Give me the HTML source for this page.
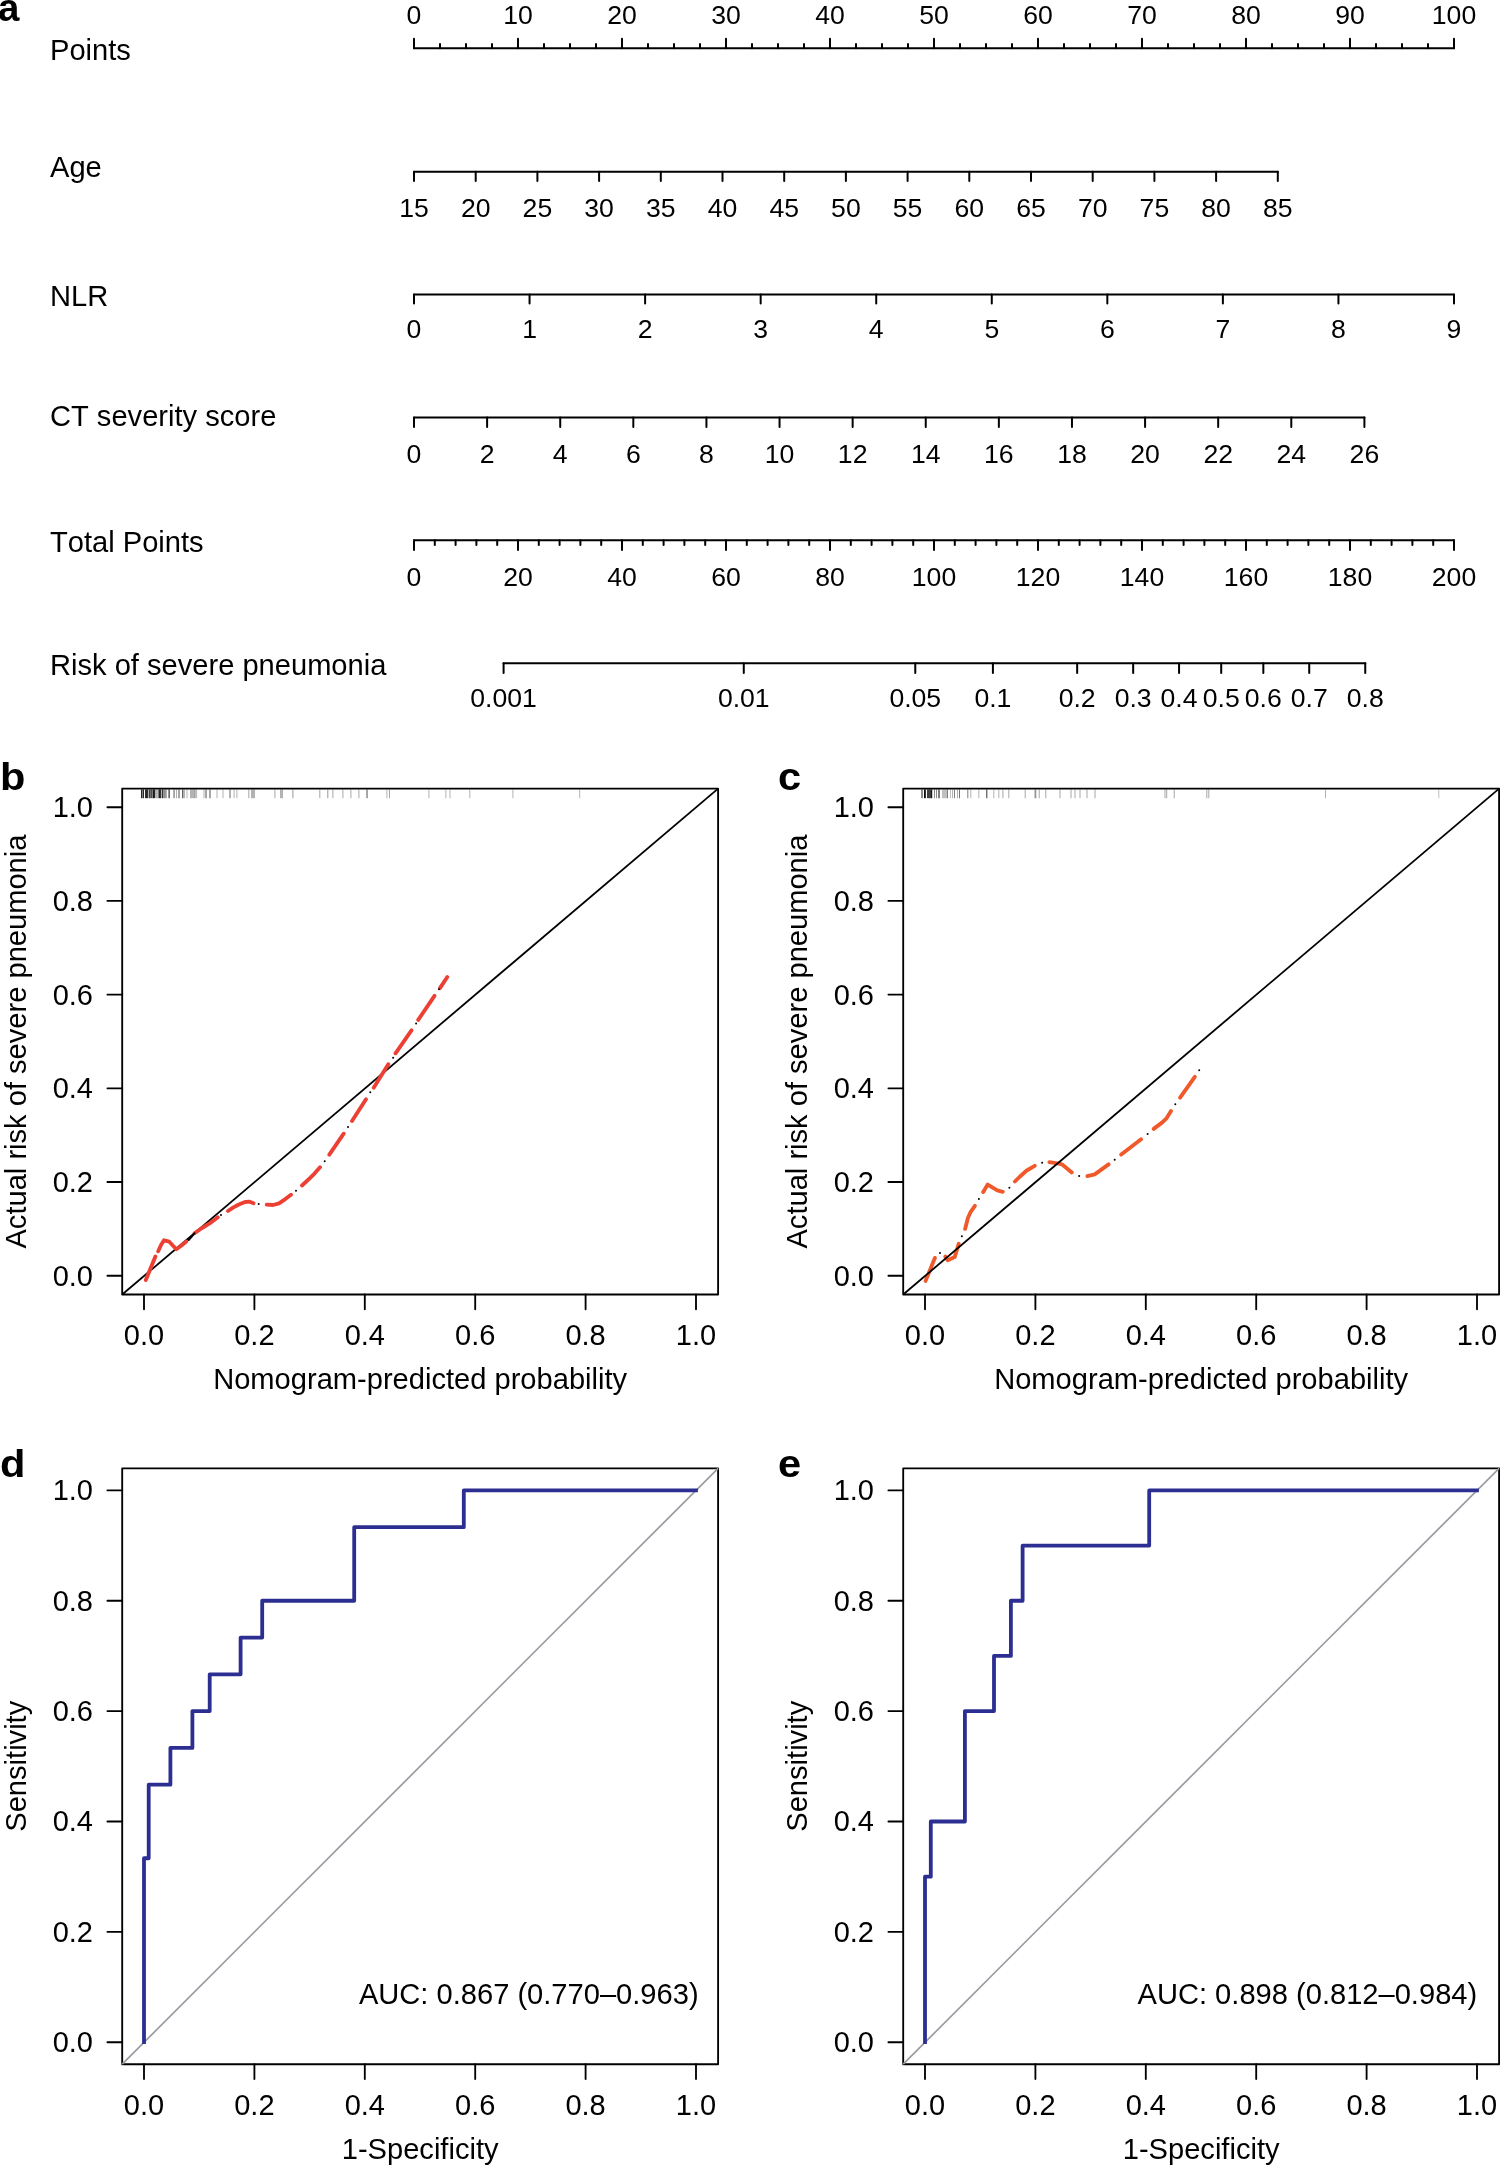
<!DOCTYPE html>
<html><head><meta charset="utf-8"><title>Nomogram</title>
<style>
html,body{margin:0;padding:0;background:#fff;}
body{width:1500px;height:2165px;overflow:hidden;}
svg{display:block;will-change:transform;}
svg text{font-family:"Liberation Sans",sans-serif;font-kerning:none;fill:#000;}
</style></head>
<body>
<svg width="1500" height="2165" viewBox="0 0 1500 2165">
<rect width="1500" height="2165" fill="#fff"/>
<text x="-2" y="21.3" font-size="38.5" font-weight="bold" text-anchor="start">a</text>
<text x="50.00" y="60.00" font-size="29.1" text-anchor="start" >Points</text>
<text x="50.00" y="176.80" font-size="29.1" text-anchor="start" >Age</text>
<text x="50.00" y="306.00" font-size="29.1" text-anchor="start" >NLR</text>
<text x="50.00" y="425.80" font-size="29.1" text-anchor="start" >CT severity score</text>
<text x="50.00" y="551.70" font-size="29.1" text-anchor="start" >Total Points</text>
<text x="50.00" y="674.80" font-size="29.1" text-anchor="start" >Risk of severe pneumonia</text>
<line x1="414.00" y1="48.30" x2="1454.00" y2="48.30" stroke="#000" stroke-width="2.0" stroke-linecap="round" />
<line x1="414.00" y1="38.70" x2="414.00" y2="48.30" stroke="#000" stroke-width="2.0" stroke-linecap="round" />
<text x="414.00" y="24.00" font-size="26.6" text-anchor="middle" >0</text>
<line x1="440.00" y1="43.90" x2="440.00" y2="48.30" stroke="#000" stroke-width="2.0" stroke-linecap="round" />
<line x1="466.00" y1="43.90" x2="466.00" y2="48.30" stroke="#000" stroke-width="2.0" stroke-linecap="round" />
<line x1="492.00" y1="43.90" x2="492.00" y2="48.30" stroke="#000" stroke-width="2.0" stroke-linecap="round" />
<line x1="518.00" y1="38.70" x2="518.00" y2="48.30" stroke="#000" stroke-width="2.0" stroke-linecap="round" />
<text x="518.00" y="24.00" font-size="26.6" text-anchor="middle" >10</text>
<line x1="544.00" y1="43.90" x2="544.00" y2="48.30" stroke="#000" stroke-width="2.0" stroke-linecap="round" />
<line x1="570.00" y1="43.90" x2="570.00" y2="48.30" stroke="#000" stroke-width="2.0" stroke-linecap="round" />
<line x1="596.00" y1="43.90" x2="596.00" y2="48.30" stroke="#000" stroke-width="2.0" stroke-linecap="round" />
<line x1="622.00" y1="38.70" x2="622.00" y2="48.30" stroke="#000" stroke-width="2.0" stroke-linecap="round" />
<text x="622.00" y="24.00" font-size="26.6" text-anchor="middle" >20</text>
<line x1="648.00" y1="43.90" x2="648.00" y2="48.30" stroke="#000" stroke-width="2.0" stroke-linecap="round" />
<line x1="674.00" y1="43.90" x2="674.00" y2="48.30" stroke="#000" stroke-width="2.0" stroke-linecap="round" />
<line x1="700.00" y1="43.90" x2="700.00" y2="48.30" stroke="#000" stroke-width="2.0" stroke-linecap="round" />
<line x1="726.00" y1="38.70" x2="726.00" y2="48.30" stroke="#000" stroke-width="2.0" stroke-linecap="round" />
<text x="726.00" y="24.00" font-size="26.6" text-anchor="middle" >30</text>
<line x1="752.00" y1="43.90" x2="752.00" y2="48.30" stroke="#000" stroke-width="2.0" stroke-linecap="round" />
<line x1="778.00" y1="43.90" x2="778.00" y2="48.30" stroke="#000" stroke-width="2.0" stroke-linecap="round" />
<line x1="804.00" y1="43.90" x2="804.00" y2="48.30" stroke="#000" stroke-width="2.0" stroke-linecap="round" />
<line x1="830.00" y1="38.70" x2="830.00" y2="48.30" stroke="#000" stroke-width="2.0" stroke-linecap="round" />
<text x="830.00" y="24.00" font-size="26.6" text-anchor="middle" >40</text>
<line x1="856.00" y1="43.90" x2="856.00" y2="48.30" stroke="#000" stroke-width="2.0" stroke-linecap="round" />
<line x1="882.00" y1="43.90" x2="882.00" y2="48.30" stroke="#000" stroke-width="2.0" stroke-linecap="round" />
<line x1="908.00" y1="43.90" x2="908.00" y2="48.30" stroke="#000" stroke-width="2.0" stroke-linecap="round" />
<line x1="934.00" y1="38.70" x2="934.00" y2="48.30" stroke="#000" stroke-width="2.0" stroke-linecap="round" />
<text x="934.00" y="24.00" font-size="26.6" text-anchor="middle" >50</text>
<line x1="960.00" y1="43.90" x2="960.00" y2="48.30" stroke="#000" stroke-width="2.0" stroke-linecap="round" />
<line x1="986.00" y1="43.90" x2="986.00" y2="48.30" stroke="#000" stroke-width="2.0" stroke-linecap="round" />
<line x1="1012.00" y1="43.90" x2="1012.00" y2="48.30" stroke="#000" stroke-width="2.0" stroke-linecap="round" />
<line x1="1038.00" y1="38.70" x2="1038.00" y2="48.30" stroke="#000" stroke-width="2.0" stroke-linecap="round" />
<text x="1038.00" y="24.00" font-size="26.6" text-anchor="middle" >60</text>
<line x1="1064.00" y1="43.90" x2="1064.00" y2="48.30" stroke="#000" stroke-width="2.0" stroke-linecap="round" />
<line x1="1090.00" y1="43.90" x2="1090.00" y2="48.30" stroke="#000" stroke-width="2.0" stroke-linecap="round" />
<line x1="1116.00" y1="43.90" x2="1116.00" y2="48.30" stroke="#000" stroke-width="2.0" stroke-linecap="round" />
<line x1="1142.00" y1="38.70" x2="1142.00" y2="48.30" stroke="#000" stroke-width="2.0" stroke-linecap="round" />
<text x="1142.00" y="24.00" font-size="26.6" text-anchor="middle" >70</text>
<line x1="1168.00" y1="43.90" x2="1168.00" y2="48.30" stroke="#000" stroke-width="2.0" stroke-linecap="round" />
<line x1="1194.00" y1="43.90" x2="1194.00" y2="48.30" stroke="#000" stroke-width="2.0" stroke-linecap="round" />
<line x1="1220.00" y1="43.90" x2="1220.00" y2="48.30" stroke="#000" stroke-width="2.0" stroke-linecap="round" />
<line x1="1246.00" y1="38.70" x2="1246.00" y2="48.30" stroke="#000" stroke-width="2.0" stroke-linecap="round" />
<text x="1246.00" y="24.00" font-size="26.6" text-anchor="middle" >80</text>
<line x1="1272.00" y1="43.90" x2="1272.00" y2="48.30" stroke="#000" stroke-width="2.0" stroke-linecap="round" />
<line x1="1298.00" y1="43.90" x2="1298.00" y2="48.30" stroke="#000" stroke-width="2.0" stroke-linecap="round" />
<line x1="1324.00" y1="43.90" x2="1324.00" y2="48.30" stroke="#000" stroke-width="2.0" stroke-linecap="round" />
<line x1="1350.00" y1="38.70" x2="1350.00" y2="48.30" stroke="#000" stroke-width="2.0" stroke-linecap="round" />
<text x="1350.00" y="24.00" font-size="26.6" text-anchor="middle" >90</text>
<line x1="1376.00" y1="43.90" x2="1376.00" y2="48.30" stroke="#000" stroke-width="2.0" stroke-linecap="round" />
<line x1="1402.00" y1="43.90" x2="1402.00" y2="48.30" stroke="#000" stroke-width="2.0" stroke-linecap="round" />
<line x1="1428.00" y1="43.90" x2="1428.00" y2="48.30" stroke="#000" stroke-width="2.0" stroke-linecap="round" />
<line x1="1454.00" y1="38.70" x2="1454.00" y2="48.30" stroke="#000" stroke-width="2.0" stroke-linecap="round" />
<text x="1454.00" y="24.00" font-size="26.6" text-anchor="middle" >100</text>
<line x1="414.00" y1="171.70" x2="1277.80" y2="171.70" stroke="#000" stroke-width="2.0" stroke-linecap="round" />
<line x1="414.00" y1="171.70" x2="414.00" y2="181.00" stroke="#000" stroke-width="2.0" stroke-linecap="round" />
<text x="414.00" y="217.00" font-size="26.6" text-anchor="middle" >15</text>
<line x1="475.70" y1="171.70" x2="475.70" y2="181.00" stroke="#000" stroke-width="2.0" stroke-linecap="round" />
<text x="475.70" y="217.00" font-size="26.6" text-anchor="middle" >20</text>
<line x1="537.40" y1="171.70" x2="537.40" y2="181.00" stroke="#000" stroke-width="2.0" stroke-linecap="round" />
<text x="537.40" y="217.00" font-size="26.6" text-anchor="middle" >25</text>
<line x1="599.10" y1="171.70" x2="599.10" y2="181.00" stroke="#000" stroke-width="2.0" stroke-linecap="round" />
<text x="599.10" y="217.00" font-size="26.6" text-anchor="middle" >30</text>
<line x1="660.80" y1="171.70" x2="660.80" y2="181.00" stroke="#000" stroke-width="2.0" stroke-linecap="round" />
<text x="660.80" y="217.00" font-size="26.6" text-anchor="middle" >35</text>
<line x1="722.50" y1="171.70" x2="722.50" y2="181.00" stroke="#000" stroke-width="2.0" stroke-linecap="round" />
<text x="722.50" y="217.00" font-size="26.6" text-anchor="middle" >40</text>
<line x1="784.20" y1="171.70" x2="784.20" y2="181.00" stroke="#000" stroke-width="2.0" stroke-linecap="round" />
<text x="784.20" y="217.00" font-size="26.6" text-anchor="middle" >45</text>
<line x1="845.90" y1="171.70" x2="845.90" y2="181.00" stroke="#000" stroke-width="2.0" stroke-linecap="round" />
<text x="845.90" y="217.00" font-size="26.6" text-anchor="middle" >50</text>
<line x1="907.60" y1="171.70" x2="907.60" y2="181.00" stroke="#000" stroke-width="2.0" stroke-linecap="round" />
<text x="907.60" y="217.00" font-size="26.6" text-anchor="middle" >55</text>
<line x1="969.30" y1="171.70" x2="969.30" y2="181.00" stroke="#000" stroke-width="2.0" stroke-linecap="round" />
<text x="969.30" y="217.00" font-size="26.6" text-anchor="middle" >60</text>
<line x1="1031.00" y1="171.70" x2="1031.00" y2="181.00" stroke="#000" stroke-width="2.0" stroke-linecap="round" />
<text x="1031.00" y="217.00" font-size="26.6" text-anchor="middle" >65</text>
<line x1="1092.70" y1="171.70" x2="1092.70" y2="181.00" stroke="#000" stroke-width="2.0" stroke-linecap="round" />
<text x="1092.70" y="217.00" font-size="26.6" text-anchor="middle" >70</text>
<line x1="1154.40" y1="171.70" x2="1154.40" y2="181.00" stroke="#000" stroke-width="2.0" stroke-linecap="round" />
<text x="1154.40" y="217.00" font-size="26.6" text-anchor="middle" >75</text>
<line x1="1216.10" y1="171.70" x2="1216.10" y2="181.00" stroke="#000" stroke-width="2.0" stroke-linecap="round" />
<text x="1216.10" y="217.00" font-size="26.6" text-anchor="middle" >80</text>
<line x1="1277.80" y1="171.70" x2="1277.80" y2="181.00" stroke="#000" stroke-width="2.0" stroke-linecap="round" />
<text x="1277.80" y="217.00" font-size="26.6" text-anchor="middle" >85</text>
<line x1="414.00" y1="294.50" x2="1454.00" y2="294.50" stroke="#000" stroke-width="2.0" stroke-linecap="round" />
<line x1="414.00" y1="294.50" x2="414.00" y2="303.50" stroke="#000" stroke-width="2.0" stroke-linecap="round" />
<text x="414.00" y="338.00" font-size="26.6" text-anchor="middle" >0</text>
<line x1="529.56" y1="294.50" x2="529.56" y2="303.50" stroke="#000" stroke-width="2.0" stroke-linecap="round" />
<text x="529.56" y="338.00" font-size="26.6" text-anchor="middle" >1</text>
<line x1="645.11" y1="294.50" x2="645.11" y2="303.50" stroke="#000" stroke-width="2.0" stroke-linecap="round" />
<text x="645.11" y="338.00" font-size="26.6" text-anchor="middle" >2</text>
<line x1="760.67" y1="294.50" x2="760.67" y2="303.50" stroke="#000" stroke-width="2.0" stroke-linecap="round" />
<text x="760.67" y="338.00" font-size="26.6" text-anchor="middle" >3</text>
<line x1="876.22" y1="294.50" x2="876.22" y2="303.50" stroke="#000" stroke-width="2.0" stroke-linecap="round" />
<text x="876.22" y="338.00" font-size="26.6" text-anchor="middle" >4</text>
<line x1="991.78" y1="294.50" x2="991.78" y2="303.50" stroke="#000" stroke-width="2.0" stroke-linecap="round" />
<text x="991.78" y="338.00" font-size="26.6" text-anchor="middle" >5</text>
<line x1="1107.33" y1="294.50" x2="1107.33" y2="303.50" stroke="#000" stroke-width="2.0" stroke-linecap="round" />
<text x="1107.33" y="338.00" font-size="26.6" text-anchor="middle" >6</text>
<line x1="1222.89" y1="294.50" x2="1222.89" y2="303.50" stroke="#000" stroke-width="2.0" stroke-linecap="round" />
<text x="1222.89" y="338.00" font-size="26.6" text-anchor="middle" >7</text>
<line x1="1338.44" y1="294.50" x2="1338.44" y2="303.50" stroke="#000" stroke-width="2.0" stroke-linecap="round" />
<text x="1338.44" y="338.00" font-size="26.6" text-anchor="middle" >8</text>
<line x1="1454.00" y1="294.50" x2="1454.00" y2="303.50" stroke="#000" stroke-width="2.0" stroke-linecap="round" />
<text x="1454.00" y="338.00" font-size="26.6" text-anchor="middle" >9</text>
<line x1="414.00" y1="417.60" x2="1364.40" y2="417.60" stroke="#000" stroke-width="2.0" stroke-linecap="round" />
<line x1="414.00" y1="417.60" x2="414.00" y2="426.90" stroke="#000" stroke-width="2.0" stroke-linecap="round" />
<text x="414.00" y="463.00" font-size="26.6" text-anchor="middle" >0</text>
<line x1="487.11" y1="417.60" x2="487.11" y2="426.90" stroke="#000" stroke-width="2.0" stroke-linecap="round" />
<text x="487.11" y="463.00" font-size="26.6" text-anchor="middle" >2</text>
<line x1="560.22" y1="417.60" x2="560.22" y2="426.90" stroke="#000" stroke-width="2.0" stroke-linecap="round" />
<text x="560.22" y="463.00" font-size="26.6" text-anchor="middle" >4</text>
<line x1="633.32" y1="417.60" x2="633.32" y2="426.90" stroke="#000" stroke-width="2.0" stroke-linecap="round" />
<text x="633.32" y="463.00" font-size="26.6" text-anchor="middle" >6</text>
<line x1="706.43" y1="417.60" x2="706.43" y2="426.90" stroke="#000" stroke-width="2.0" stroke-linecap="round" />
<text x="706.43" y="463.00" font-size="26.6" text-anchor="middle" >8</text>
<line x1="779.54" y1="417.60" x2="779.54" y2="426.90" stroke="#000" stroke-width="2.0" stroke-linecap="round" />
<text x="779.54" y="463.00" font-size="26.6" text-anchor="middle" >10</text>
<line x1="852.65" y1="417.60" x2="852.65" y2="426.90" stroke="#000" stroke-width="2.0" stroke-linecap="round" />
<text x="852.65" y="463.00" font-size="26.6" text-anchor="middle" >12</text>
<line x1="925.75" y1="417.60" x2="925.75" y2="426.90" stroke="#000" stroke-width="2.0" stroke-linecap="round" />
<text x="925.75" y="463.00" font-size="26.6" text-anchor="middle" >14</text>
<line x1="998.86" y1="417.60" x2="998.86" y2="426.90" stroke="#000" stroke-width="2.0" stroke-linecap="round" />
<text x="998.86" y="463.00" font-size="26.6" text-anchor="middle" >16</text>
<line x1="1071.97" y1="417.60" x2="1071.97" y2="426.90" stroke="#000" stroke-width="2.0" stroke-linecap="round" />
<text x="1071.97" y="463.00" font-size="26.6" text-anchor="middle" >18</text>
<line x1="1145.08" y1="417.60" x2="1145.08" y2="426.90" stroke="#000" stroke-width="2.0" stroke-linecap="round" />
<text x="1145.08" y="463.00" font-size="26.6" text-anchor="middle" >20</text>
<line x1="1218.18" y1="417.60" x2="1218.18" y2="426.90" stroke="#000" stroke-width="2.0" stroke-linecap="round" />
<text x="1218.18" y="463.00" font-size="26.6" text-anchor="middle" >22</text>
<line x1="1291.29" y1="417.60" x2="1291.29" y2="426.90" stroke="#000" stroke-width="2.0" stroke-linecap="round" />
<text x="1291.29" y="463.00" font-size="26.6" text-anchor="middle" >24</text>
<line x1="1364.40" y1="417.60" x2="1364.40" y2="426.90" stroke="#000" stroke-width="2.0" stroke-linecap="round" />
<text x="1364.40" y="463.00" font-size="26.6" text-anchor="middle" >26</text>
<line x1="414.00" y1="540.30" x2="1454.00" y2="540.30" stroke="#000" stroke-width="2.0" stroke-linecap="round" />
<line x1="414.00" y1="540.30" x2="414.00" y2="550.00" stroke="#000" stroke-width="2.0" stroke-linecap="round" />
<text x="414.00" y="586.00" font-size="26.6" text-anchor="middle" >0</text>
<line x1="434.80" y1="540.30" x2="434.80" y2="545.00" stroke="#000" stroke-width="2.0" stroke-linecap="round" />
<line x1="455.60" y1="540.30" x2="455.60" y2="545.00" stroke="#000" stroke-width="2.0" stroke-linecap="round" />
<line x1="476.40" y1="540.30" x2="476.40" y2="545.00" stroke="#000" stroke-width="2.0" stroke-linecap="round" />
<line x1="497.20" y1="540.30" x2="497.20" y2="545.00" stroke="#000" stroke-width="2.0" stroke-linecap="round" />
<line x1="518.00" y1="540.30" x2="518.00" y2="550.00" stroke="#000" stroke-width="2.0" stroke-linecap="round" />
<text x="518.00" y="586.00" font-size="26.6" text-anchor="middle" >20</text>
<line x1="538.80" y1="540.30" x2="538.80" y2="545.00" stroke="#000" stroke-width="2.0" stroke-linecap="round" />
<line x1="559.60" y1="540.30" x2="559.60" y2="545.00" stroke="#000" stroke-width="2.0" stroke-linecap="round" />
<line x1="580.40" y1="540.30" x2="580.40" y2="545.00" stroke="#000" stroke-width="2.0" stroke-linecap="round" />
<line x1="601.20" y1="540.30" x2="601.20" y2="545.00" stroke="#000" stroke-width="2.0" stroke-linecap="round" />
<line x1="622.00" y1="540.30" x2="622.00" y2="550.00" stroke="#000" stroke-width="2.0" stroke-linecap="round" />
<text x="622.00" y="586.00" font-size="26.6" text-anchor="middle" >40</text>
<line x1="642.80" y1="540.30" x2="642.80" y2="545.00" stroke="#000" stroke-width="2.0" stroke-linecap="round" />
<line x1="663.60" y1="540.30" x2="663.60" y2="545.00" stroke="#000" stroke-width="2.0" stroke-linecap="round" />
<line x1="684.40" y1="540.30" x2="684.40" y2="545.00" stroke="#000" stroke-width="2.0" stroke-linecap="round" />
<line x1="705.20" y1="540.30" x2="705.20" y2="545.00" stroke="#000" stroke-width="2.0" stroke-linecap="round" />
<line x1="726.00" y1="540.30" x2="726.00" y2="550.00" stroke="#000" stroke-width="2.0" stroke-linecap="round" />
<text x="726.00" y="586.00" font-size="26.6" text-anchor="middle" >60</text>
<line x1="746.80" y1="540.30" x2="746.80" y2="545.00" stroke="#000" stroke-width="2.0" stroke-linecap="round" />
<line x1="767.60" y1="540.30" x2="767.60" y2="545.00" stroke="#000" stroke-width="2.0" stroke-linecap="round" />
<line x1="788.40" y1="540.30" x2="788.40" y2="545.00" stroke="#000" stroke-width="2.0" stroke-linecap="round" />
<line x1="809.20" y1="540.30" x2="809.20" y2="545.00" stroke="#000" stroke-width="2.0" stroke-linecap="round" />
<line x1="830.00" y1="540.30" x2="830.00" y2="550.00" stroke="#000" stroke-width="2.0" stroke-linecap="round" />
<text x="830.00" y="586.00" font-size="26.6" text-anchor="middle" >80</text>
<line x1="850.80" y1="540.30" x2="850.80" y2="545.00" stroke="#000" stroke-width="2.0" stroke-linecap="round" />
<line x1="871.60" y1="540.30" x2="871.60" y2="545.00" stroke="#000" stroke-width="2.0" stroke-linecap="round" />
<line x1="892.40" y1="540.30" x2="892.40" y2="545.00" stroke="#000" stroke-width="2.0" stroke-linecap="round" />
<line x1="913.20" y1="540.30" x2="913.20" y2="545.00" stroke="#000" stroke-width="2.0" stroke-linecap="round" />
<line x1="934.00" y1="540.30" x2="934.00" y2="550.00" stroke="#000" stroke-width="2.0" stroke-linecap="round" />
<text x="934.00" y="586.00" font-size="26.6" text-anchor="middle" >100</text>
<line x1="954.80" y1="540.30" x2="954.80" y2="545.00" stroke="#000" stroke-width="2.0" stroke-linecap="round" />
<line x1="975.60" y1="540.30" x2="975.60" y2="545.00" stroke="#000" stroke-width="2.0" stroke-linecap="round" />
<line x1="996.40" y1="540.30" x2="996.40" y2="545.00" stroke="#000" stroke-width="2.0" stroke-linecap="round" />
<line x1="1017.20" y1="540.30" x2="1017.20" y2="545.00" stroke="#000" stroke-width="2.0" stroke-linecap="round" />
<line x1="1038.00" y1="540.30" x2="1038.00" y2="550.00" stroke="#000" stroke-width="2.0" stroke-linecap="round" />
<text x="1038.00" y="586.00" font-size="26.6" text-anchor="middle" >120</text>
<line x1="1058.80" y1="540.30" x2="1058.80" y2="545.00" stroke="#000" stroke-width="2.0" stroke-linecap="round" />
<line x1="1079.60" y1="540.30" x2="1079.60" y2="545.00" stroke="#000" stroke-width="2.0" stroke-linecap="round" />
<line x1="1100.40" y1="540.30" x2="1100.40" y2="545.00" stroke="#000" stroke-width="2.0" stroke-linecap="round" />
<line x1="1121.20" y1="540.30" x2="1121.20" y2="545.00" stroke="#000" stroke-width="2.0" stroke-linecap="round" />
<line x1="1142.00" y1="540.30" x2="1142.00" y2="550.00" stroke="#000" stroke-width="2.0" stroke-linecap="round" />
<text x="1142.00" y="586.00" font-size="26.6" text-anchor="middle" >140</text>
<line x1="1162.80" y1="540.30" x2="1162.80" y2="545.00" stroke="#000" stroke-width="2.0" stroke-linecap="round" />
<line x1="1183.60" y1="540.30" x2="1183.60" y2="545.00" stroke="#000" stroke-width="2.0" stroke-linecap="round" />
<line x1="1204.40" y1="540.30" x2="1204.40" y2="545.00" stroke="#000" stroke-width="2.0" stroke-linecap="round" />
<line x1="1225.20" y1="540.30" x2="1225.20" y2="545.00" stroke="#000" stroke-width="2.0" stroke-linecap="round" />
<line x1="1246.00" y1="540.30" x2="1246.00" y2="550.00" stroke="#000" stroke-width="2.0" stroke-linecap="round" />
<text x="1246.00" y="586.00" font-size="26.6" text-anchor="middle" >160</text>
<line x1="1266.80" y1="540.30" x2="1266.80" y2="545.00" stroke="#000" stroke-width="2.0" stroke-linecap="round" />
<line x1="1287.60" y1="540.30" x2="1287.60" y2="545.00" stroke="#000" stroke-width="2.0" stroke-linecap="round" />
<line x1="1308.40" y1="540.30" x2="1308.40" y2="545.00" stroke="#000" stroke-width="2.0" stroke-linecap="round" />
<line x1="1329.20" y1="540.30" x2="1329.20" y2="545.00" stroke="#000" stroke-width="2.0" stroke-linecap="round" />
<line x1="1350.00" y1="540.30" x2="1350.00" y2="550.00" stroke="#000" stroke-width="2.0" stroke-linecap="round" />
<text x="1350.00" y="586.00" font-size="26.6" text-anchor="middle" >180</text>
<line x1="1370.80" y1="540.30" x2="1370.80" y2="545.00" stroke="#000" stroke-width="2.0" stroke-linecap="round" />
<line x1="1391.60" y1="540.30" x2="1391.60" y2="545.00" stroke="#000" stroke-width="2.0" stroke-linecap="round" />
<line x1="1412.40" y1="540.30" x2="1412.40" y2="545.00" stroke="#000" stroke-width="2.0" stroke-linecap="round" />
<line x1="1433.20" y1="540.30" x2="1433.20" y2="545.00" stroke="#000" stroke-width="2.0" stroke-linecap="round" />
<line x1="1454.00" y1="540.30" x2="1454.00" y2="550.00" stroke="#000" stroke-width="2.0" stroke-linecap="round" />
<text x="1454.00" y="586.00" font-size="26.6" text-anchor="middle" >200</text>
<line x1="503.59" y1="663.30" x2="1365.24" y2="663.30" stroke="#000" stroke-width="2.0" stroke-linecap="round" />
<line x1="503.59" y1="663.30" x2="503.59" y2="673.00" stroke="#000" stroke-width="2.0" stroke-linecap="round" />
<text x="503.59" y="707.00" font-size="26.6" text-anchor="middle" >0.001</text>
<line x1="743.77" y1="663.30" x2="743.77" y2="673.00" stroke="#000" stroke-width="2.0" stroke-linecap="round" />
<text x="743.77" y="707.00" font-size="26.6" text-anchor="middle" >0.01</text>
<line x1="915.27" y1="663.30" x2="915.27" y2="673.00" stroke="#000" stroke-width="2.0" stroke-linecap="round" />
<text x="915.27" y="707.00" font-size="26.6" text-anchor="middle" >0.05</text>
<line x1="992.91" y1="663.30" x2="992.91" y2="673.00" stroke="#000" stroke-width="2.0" stroke-linecap="round" />
<text x="992.91" y="707.00" font-size="26.6" text-anchor="middle" >0.1</text>
<line x1="1077.16" y1="663.30" x2="1077.16" y2="673.00" stroke="#000" stroke-width="2.0" stroke-linecap="round" />
<text x="1077.16" y="707.00" font-size="26.6" text-anchor="middle" >0.2</text>
<line x1="1133.17" y1="663.30" x2="1133.17" y2="673.00" stroke="#000" stroke-width="2.0" stroke-linecap="round" />
<text x="1133.17" y="707.00" font-size="26.6" text-anchor="middle" >0.3</text>
<line x1="1179.07" y1="663.30" x2="1179.07" y2="673.00" stroke="#000" stroke-width="2.0" stroke-linecap="round" />
<text x="1179.07" y="707.00" font-size="26.6" text-anchor="middle" >0.4</text>
<line x1="1221.20" y1="663.30" x2="1221.20" y2="673.00" stroke="#000" stroke-width="2.0" stroke-linecap="round" />
<text x="1221.20" y="707.00" font-size="26.6" text-anchor="middle" >0.5</text>
<line x1="1263.33" y1="663.30" x2="1263.33" y2="673.00" stroke="#000" stroke-width="2.0" stroke-linecap="round" />
<text x="1263.33" y="707.00" font-size="26.6" text-anchor="middle" >0.6</text>
<line x1="1309.23" y1="663.30" x2="1309.23" y2="673.00" stroke="#000" stroke-width="2.0" stroke-linecap="round" />
<text x="1309.23" y="707.00" font-size="26.6" text-anchor="middle" >0.7</text>
<line x1="1365.24" y1="663.30" x2="1365.24" y2="673.00" stroke="#000" stroke-width="2.0" stroke-linecap="round" />
<text x="1365.24" y="707.00" font-size="26.6" text-anchor="middle" >0.8</text>
<rect x="122.2" y="788.6" width="595.9" height="505.9" fill="none" stroke="#000" stroke-width="1.85" stroke-linejoin="round"/>
<line x1="144.00" y1="1294.50" x2="144.00" y2="1309.30" stroke="#000" stroke-width="1.85" stroke-linecap="round" />
<text x="144.00" y="1345.00" font-size="29.0" text-anchor="middle" >0.0</text>
<line x1="107.40" y1="1275.70" x2="122.20" y2="1275.70" stroke="#000" stroke-width="1.85" stroke-linecap="round" />
<text x="93.00" y="1285.70" font-size="29.0" text-anchor="end" >0.0</text>
<line x1="254.40" y1="1294.50" x2="254.40" y2="1309.30" stroke="#000" stroke-width="1.85" stroke-linecap="round" />
<text x="254.40" y="1345.00" font-size="29.0" text-anchor="middle" >0.2</text>
<line x1="107.40" y1="1182.00" x2="122.20" y2="1182.00" stroke="#000" stroke-width="1.85" stroke-linecap="round" />
<text x="93.00" y="1192.00" font-size="29.0" text-anchor="end" >0.2</text>
<line x1="364.80" y1="1294.50" x2="364.80" y2="1309.30" stroke="#000" stroke-width="1.85" stroke-linecap="round" />
<text x="364.80" y="1345.00" font-size="29.0" text-anchor="middle" >0.4</text>
<line x1="107.40" y1="1088.30" x2="122.20" y2="1088.30" stroke="#000" stroke-width="1.85" stroke-linecap="round" />
<text x="93.00" y="1098.30" font-size="29.0" text-anchor="end" >0.4</text>
<line x1="475.20" y1="1294.50" x2="475.20" y2="1309.30" stroke="#000" stroke-width="1.85" stroke-linecap="round" />
<text x="475.20" y="1345.00" font-size="29.0" text-anchor="middle" >0.6</text>
<line x1="107.40" y1="994.60" x2="122.20" y2="994.60" stroke="#000" stroke-width="1.85" stroke-linecap="round" />
<text x="93.00" y="1004.60" font-size="29.0" text-anchor="end" >0.6</text>
<line x1="585.60" y1="1294.50" x2="585.60" y2="1309.30" stroke="#000" stroke-width="1.85" stroke-linecap="round" />
<text x="585.60" y="1345.00" font-size="29.0" text-anchor="middle" >0.8</text>
<line x1="107.40" y1="900.90" x2="122.20" y2="900.90" stroke="#000" stroke-width="1.85" stroke-linecap="round" />
<text x="93.00" y="910.90" font-size="29.0" text-anchor="end" >0.8</text>
<line x1="696.00" y1="1294.50" x2="696.00" y2="1309.30" stroke="#000" stroke-width="1.85" stroke-linecap="round" />
<text x="696.00" y="1345.00" font-size="29.0" text-anchor="middle" >1.0</text>
<line x1="107.40" y1="807.20" x2="122.20" y2="807.20" stroke="#000" stroke-width="1.85" stroke-linecap="round" />
<text x="93.00" y="817.20" font-size="29.0" text-anchor="end" >1.0</text>
<text x="0" y="0" font-size="29.1" text-anchor="middle" transform="translate(26.0,1041.55) rotate(-90)">Actual risk of severe pneumonia</text>
<text x="420.15" y="1389.00" font-size="29.1" text-anchor="middle" >Nomogram-predicted probability</text>
<text x="0.0" y="790.0" font-size="38.5" font-weight="bold" text-anchor="start" transform="translate(0.0,790.0) scale(1.08,1) translate(-0.0,-790.0)">b</text>
<rect x="903.2" y="788.6" width="595.8999999999999" height="505.9" fill="none" stroke="#000" stroke-width="1.85" stroke-linejoin="round"/>
<line x1="925.00" y1="1294.50" x2="925.00" y2="1309.30" stroke="#000" stroke-width="1.85" stroke-linecap="round" />
<text x="925.00" y="1345.00" font-size="29.0" text-anchor="middle" >0.0</text>
<line x1="888.40" y1="1275.70" x2="903.20" y2="1275.70" stroke="#000" stroke-width="1.85" stroke-linecap="round" />
<text x="874.00" y="1285.70" font-size="29.0" text-anchor="end" >0.0</text>
<line x1="1035.40" y1="1294.50" x2="1035.40" y2="1309.30" stroke="#000" stroke-width="1.85" stroke-linecap="round" />
<text x="1035.40" y="1345.00" font-size="29.0" text-anchor="middle" >0.2</text>
<line x1="888.40" y1="1182.00" x2="903.20" y2="1182.00" stroke="#000" stroke-width="1.85" stroke-linecap="round" />
<text x="874.00" y="1192.00" font-size="29.0" text-anchor="end" >0.2</text>
<line x1="1145.80" y1="1294.50" x2="1145.80" y2="1309.30" stroke="#000" stroke-width="1.85" stroke-linecap="round" />
<text x="1145.80" y="1345.00" font-size="29.0" text-anchor="middle" >0.4</text>
<line x1="888.40" y1="1088.30" x2="903.20" y2="1088.30" stroke="#000" stroke-width="1.85" stroke-linecap="round" />
<text x="874.00" y="1098.30" font-size="29.0" text-anchor="end" >0.4</text>
<line x1="1256.20" y1="1294.50" x2="1256.20" y2="1309.30" stroke="#000" stroke-width="1.85" stroke-linecap="round" />
<text x="1256.20" y="1345.00" font-size="29.0" text-anchor="middle" >0.6</text>
<line x1="888.40" y1="994.60" x2="903.20" y2="994.60" stroke="#000" stroke-width="1.85" stroke-linecap="round" />
<text x="874.00" y="1004.60" font-size="29.0" text-anchor="end" >0.6</text>
<line x1="1366.60" y1="1294.50" x2="1366.60" y2="1309.30" stroke="#000" stroke-width="1.85" stroke-linecap="round" />
<text x="1366.60" y="1345.00" font-size="29.0" text-anchor="middle" >0.8</text>
<line x1="888.40" y1="900.90" x2="903.20" y2="900.90" stroke="#000" stroke-width="1.85" stroke-linecap="round" />
<text x="874.00" y="910.90" font-size="29.0" text-anchor="end" >0.8</text>
<line x1="1477.00" y1="1294.50" x2="1477.00" y2="1309.30" stroke="#000" stroke-width="1.85" stroke-linecap="round" />
<text x="1477.00" y="1345.00" font-size="29.0" text-anchor="middle" >1.0</text>
<line x1="888.40" y1="807.20" x2="903.20" y2="807.20" stroke="#000" stroke-width="1.85" stroke-linecap="round" />
<text x="874.00" y="817.20" font-size="29.0" text-anchor="end" >1.0</text>
<text x="0" y="0" font-size="29.1" text-anchor="middle" transform="translate(807.0,1041.55) rotate(-90)">Actual risk of severe pneumonia</text>
<text x="1201.15" y="1389.00" font-size="29.1" text-anchor="middle" >Nomogram-predicted probability</text>
<text x="778.0" y="790.0" font-size="38.5" font-weight="bold" text-anchor="start" transform="translate(778.0,790.0) scale(1.08,1) translate(-778.0,-790.0)">c</text>
<rect x="141" y="789.4" width="1" height="8.8" fill="#000" fill-opacity="0.85"/>
<rect x="142" y="789.4" width="1" height="8.8" fill="#000" fill-opacity="0.5"/>
<rect x="143" y="789.4" width="1" height="8.8" fill="#000" fill-opacity="0.85"/>
<rect x="145" y="789.4" width="1" height="8.8" fill="#000" fill-opacity="0.8"/>
<rect x="146" y="789.4" width="1" height="8.8" fill="#000" fill-opacity="0.85"/>
<rect x="147" y="789.4" width="1" height="8.8" fill="#000" fill-opacity="0.8"/>
<rect x="148" y="789.4" width="1" height="8.8" fill="#000" fill-opacity="0.3"/>
<rect x="149" y="789.4" width="1" height="8.8" fill="#000" fill-opacity="0.75"/>
<rect x="150" y="789.4" width="1" height="8.8" fill="#000" fill-opacity="0.55"/>
<rect x="151" y="789.4" width="1" height="8.8" fill="#000" fill-opacity="0.7"/>
<rect x="152" y="789.4" width="1" height="8.8" fill="#000" fill-opacity="0.5"/>
<rect x="153" y="789.4" width="1" height="8.8" fill="#000" fill-opacity="0.9"/>
<rect x="154" y="789.4" width="1" height="8.8" fill="#000" fill-opacity="0.85"/>
<rect x="155" y="789.4" width="1" height="8.8" fill="#000" fill-opacity="0.3"/>
<rect x="156" y="789.4" width="1" height="8.8" fill="#000" fill-opacity="0.3"/>
<rect x="157" y="789.4" width="1" height="8.8" fill="#000" fill-opacity="0.25"/>
<rect x="158" y="789.4" width="1" height="8.8" fill="#000" fill-opacity="0.5"/>
<rect x="159" y="789.4" width="1" height="8.8" fill="#000" fill-opacity="0.85"/>
<rect x="160" y="789.4" width="1" height="8.8" fill="#000" fill-opacity="0.8"/>
<rect x="161" y="789.4" width="1" height="8.8" fill="#000" fill-opacity="0.3"/>
<rect x="162" y="789.4" width="1" height="8.8" fill="#000" fill-opacity="0.8"/>
<rect x="163" y="789.4" width="1" height="8.8" fill="#000" fill-opacity="0.4"/>
<rect x="164" y="789.4" width="1" height="8.8" fill="#000" fill-opacity="0.45"/>
<rect x="165" y="789.4" width="1" height="8.8" fill="#000" fill-opacity="0.4"/>
<rect x="166" y="789.4" width="1" height="8.8" fill="#000" fill-opacity="0.3"/>
<rect x="168" y="789.4" width="1" height="8.8" fill="#000" fill-opacity="0.4"/>
<rect x="169" y="789.4" width="1" height="8.8" fill="#000" fill-opacity="0.6"/>
<rect x="173" y="789.4" width="1" height="8.8" fill="#000" fill-opacity="0.3"/>
<rect x="174" y="789.4" width="1" height="8.8" fill="#000" fill-opacity="0.35"/>
<rect x="176" y="789.4" width="1" height="8.8" fill="#000" fill-opacity="0.3"/>
<rect x="178" y="789.4" width="1" height="8.8" fill="#000" fill-opacity="0.35"/>
<rect x="179" y="789.4" width="1" height="8.8" fill="#000" fill-opacity="0.35"/>
<rect x="182" y="789.4" width="1" height="8.8" fill="#000" fill-opacity="0.6"/>
<rect x="183" y="789.4" width="1" height="8.8" fill="#000" fill-opacity="0.3"/>
<rect x="184" y="789.4" width="1" height="8.8" fill="#000" fill-opacity="0.3"/>
<rect x="186.5" y="789.4" width="1" height="8.8" fill="#000" fill-opacity="0.3"/>
<rect x="190" y="789.4" width="1" height="8.8" fill="#000" fill-opacity="0.3"/>
<rect x="191" y="789.4" width="1" height="8.8" fill="#000" fill-opacity="0.3"/>
<rect x="192" y="789.4" width="1" height="8.8" fill="#000" fill-opacity="0.3"/>
<rect x="193" y="789.4" width="1" height="8.8" fill="#000" fill-opacity="0.3"/>
<rect x="194.4" y="789.4" width="1" height="8.8" fill="#000" fill-opacity="0.6"/>
<rect x="196.1" y="789.4" width="1" height="8.8" fill="#000" fill-opacity="0.3"/>
<rect x="203.5" y="789.4" width="1" height="8.8" fill="#000" fill-opacity="0.3"/>
<rect x="205" y="789.4" width="1" height="8.8" fill="#000" fill-opacity="0.35"/>
<rect x="206" y="789.4" width="1" height="8.8" fill="#000" fill-opacity="0.35"/>
<rect x="209" y="789.4" width="1" height="8.8" fill="#000" fill-opacity="0.35"/>
<rect x="210" y="789.4" width="1" height="8.8" fill="#000" fill-opacity="0.35"/>
<rect x="216.5" y="789.4" width="1" height="8.8" fill="#000" fill-opacity="0.3"/>
<rect x="222.5" y="789.4" width="1" height="8.8" fill="#000" fill-opacity="0.3"/>
<rect x="229.5" y="789.4" width="1" height="8.8" fill="#000" fill-opacity="0.6"/>
<rect x="233.6" y="789.4" width="1" height="8.8" fill="#000" fill-opacity="0.3"/>
<rect x="236.4" y="789.4" width="1" height="8.8" fill="#000" fill-opacity="0.3"/>
<rect x="248.3" y="789.4" width="1" height="8.8" fill="#000" fill-opacity="0.35"/>
<rect x="251" y="789.4" width="1" height="8.8" fill="#000" fill-opacity="0.3"/>
<rect x="252" y="789.4" width="1" height="8.8" fill="#000" fill-opacity="0.3"/>
<rect x="253" y="789.4" width="1" height="8.8" fill="#000" fill-opacity="0.3"/>
<rect x="254" y="789.4" width="1" height="8.8" fill="#000" fill-opacity="0.3"/>
<rect x="274.4" y="789.4" width="1" height="8.8" fill="#000" fill-opacity="0.35"/>
<rect x="280" y="789.4" width="1" height="8.8" fill="#000" fill-opacity="0.3"/>
<rect x="281" y="789.4" width="1" height="8.8" fill="#000" fill-opacity="0.3"/>
<rect x="282" y="789.4" width="1" height="8.8" fill="#000" fill-opacity="0.3"/>
<rect x="292.4" y="789.4" width="1" height="8.8" fill="#000" fill-opacity="0.4"/>
<rect x="319.3" y="789.4" width="1" height="8.8" fill="#000" fill-opacity="0.35"/>
<rect x="327.3" y="789.4" width="1" height="8.8" fill="#000" fill-opacity="0.4"/>
<rect x="332.4" y="789.4" width="1" height="8.8" fill="#000" fill-opacity="0.35"/>
<rect x="342.4" y="789.4" width="1" height="8.8" fill="#000" fill-opacity="0.35"/>
<rect x="350.4" y="789.4" width="1" height="8.8" fill="#000" fill-opacity="0.35"/>
<rect x="358.4" y="789.4" width="1" height="8.8" fill="#000" fill-opacity="0.35"/>
<rect x="366.2" y="789.4" width="1" height="8.8" fill="#000" fill-opacity="0.4"/>
<rect x="367" y="789.4" width="1" height="8.8" fill="#000" fill-opacity="0.3"/>
<rect x="386.4" y="789.4" width="1" height="8.8" fill="#000" fill-opacity="0.3"/>
<rect x="389" y="789.4" width="1" height="8.8" fill="#000" fill-opacity="0.35"/>
<rect x="428.4" y="789.4" width="1" height="8.8" fill="#000" fill-opacity="0.3"/>
<rect x="445.4" y="789.4" width="1" height="8.8" fill="#000" fill-opacity="0.3"/>
<rect x="449.5" y="789.4" width="1" height="8.8" fill="#000" fill-opacity="0.3"/>
<rect x="469.3" y="789.4" width="1" height="8.8" fill="#000" fill-opacity="0.3"/>
<rect x="512.4" y="789.4" width="1" height="8.8" fill="#000" fill-opacity="0.3"/>
<rect x="579.2" y="789.4" width="1" height="8.8" fill="#000" fill-opacity="0.3"/>
<rect x="921" y="789.4" width="1" height="8.8" fill="#000" fill-opacity="0.45"/>
<rect x="922" y="789.4" width="1" height="8.8" fill="#000" fill-opacity="0.45"/>
<rect x="924" y="789.4" width="1" height="8.8" fill="#000" fill-opacity="0.95"/>
<rect x="925" y="789.4" width="1" height="8.8" fill="#000" fill-opacity="0.8"/>
<rect x="927" y="789.4" width="1" height="8.8" fill="#000" fill-opacity="0.75"/>
<rect x="928" y="789.4" width="1" height="8.8" fill="#000" fill-opacity="0.75"/>
<rect x="929" y="789.4" width="1" height="8.8" fill="#000" fill-opacity="0.75"/>
<rect x="930" y="789.4" width="1" height="8.8" fill="#000" fill-opacity="0.75"/>
<rect x="931" y="789.4" width="1" height="8.8" fill="#000" fill-opacity="0.9"/>
<rect x="932" y="789.4" width="1" height="8.8" fill="#000" fill-opacity="0.2"/>
<rect x="934" y="789.4" width="1" height="8.8" fill="#000" fill-opacity="0.45"/>
<rect x="936" y="789.4" width="1" height="8.8" fill="#000" fill-opacity="0.45"/>
<rect x="938" y="789.4" width="1" height="8.8" fill="#000" fill-opacity="0.5"/>
<rect x="939" y="789.4" width="1" height="8.8" fill="#000" fill-opacity="0.5"/>
<rect x="942" y="789.4" width="1" height="8.8" fill="#000" fill-opacity="0.25"/>
<rect x="943" y="789.4" width="1" height="8.8" fill="#000" fill-opacity="0.25"/>
<rect x="944" y="789.4" width="1" height="8.8" fill="#000" fill-opacity="0.25"/>
<rect x="945" y="789.4" width="1" height="8.8" fill="#000" fill-opacity="0.25"/>
<rect x="946" y="789.4" width="1" height="8.8" fill="#000" fill-opacity="0.25"/>
<rect x="947" y="789.4" width="1" height="8.8" fill="#000" fill-opacity="0.5"/>
<rect x="950" y="789.4" width="1" height="8.8" fill="#000" fill-opacity="0.25"/>
<rect x="952" y="789.4" width="1" height="8.8" fill="#000" fill-opacity="0.3"/>
<rect x="954" y="789.4" width="1" height="8.8" fill="#000" fill-opacity="0.5"/>
<rect x="957" y="789.4" width="1" height="8.8" fill="#000" fill-opacity="0.3"/>
<rect x="959" y="789.4" width="1" height="8.8" fill="#000" fill-opacity="0.55"/>
<rect x="967.3" y="789.4" width="1" height="8.8" fill="#000" fill-opacity="0.5"/>
<rect x="970.3" y="789.4" width="1" height="8.8" fill="#000" fill-opacity="0.3"/>
<rect x="978.3" y="789.4" width="1" height="8.8" fill="#000" fill-opacity="0.3"/>
<rect x="986.3" y="789.4" width="1" height="8.8" fill="#000" fill-opacity="0.8"/>
<rect x="993.3" y="789.4" width="1" height="8.8" fill="#000" fill-opacity="0.3"/>
<rect x="998.3" y="789.4" width="1" height="8.8" fill="#000" fill-opacity="0.3"/>
<rect x="1002.4" y="789.4" width="1" height="8.8" fill="#000" fill-opacity="0.35"/>
<rect x="1008.3" y="789.4" width="1" height="8.8" fill="#000" fill-opacity="0.35"/>
<rect x="1024.7" y="789.4" width="1" height="8.8" fill="#000" fill-opacity="0.35"/>
<rect x="1034.5" y="789.4" width="1" height="8.8" fill="#000" fill-opacity="0.4"/>
<rect x="1035.3" y="789.4" width="1" height="8.8" fill="#000" fill-opacity="0.4"/>
<rect x="1038.7" y="789.4" width="1" height="8.8" fill="#000" fill-opacity="0.35"/>
<rect x="1045.3" y="789.4" width="1" height="8.8" fill="#000" fill-opacity="0.35"/>
<rect x="1059.5" y="789.4" width="1" height="8.8" fill="#000" fill-opacity="0.35"/>
<rect x="1070.5" y="789.4" width="1" height="8.8" fill="#000" fill-opacity="0.35"/>
<rect x="1074.5" y="789.4" width="1" height="8.8" fill="#000" fill-opacity="0.35"/>
<rect x="1079.5" y="789.4" width="1" height="8.8" fill="#000" fill-opacity="0.35"/>
<rect x="1086.5" y="789.4" width="1" height="8.8" fill="#000" fill-opacity="0.35"/>
<rect x="1094.5" y="789.4" width="1" height="8.8" fill="#000" fill-opacity="0.35"/>
<rect x="1164.5" y="789.4" width="1" height="8.8" fill="#000" fill-opacity="0.35"/>
<rect x="1166.2" y="789.4" width="1" height="8.8" fill="#000" fill-opacity="0.35"/>
<rect x="1173.7" y="789.4" width="1" height="8.8" fill="#000" fill-opacity="0.35"/>
<rect x="1206.3" y="789.4" width="1" height="8.8" fill="#000" fill-opacity="0.35"/>
<rect x="1208.3" y="789.4" width="1" height="8.8" fill="#000" fill-opacity="0.35"/>
<rect x="1325" y="789.4" width="1" height="8.8" fill="#000" fill-opacity="0.3"/>
<rect x="1438.3" y="789.4" width="1" height="8.8" fill="#000" fill-opacity="0.25"/>
<line x1="122.2" y1="1294.5" x2="718.1" y2="788.6" stroke="#000" stroke-width="1.8"/>
<path d="M145.80,1280.00 L150.50,1268.50 L155.40,1256.50 M158.20,1251.20 L161.00,1245.00 L164.00,1240.30 L169.30,1241.70 L176.30,1249.30 L181.50,1245.50 L186.30,1241.50 M194.50,1233.30 L202.00,1228.00 L210.00,1223.20 L217.80,1217.30 M228.00,1211.00 L233.00,1207.60 L238.30,1204.70 L245.00,1202.00 L249.70,1201.70 L253.50,1203.30 M266.70,1204.70 L273.00,1205.00 L279.00,1203.30 L285.00,1199.30 L291.00,1194.70 M302.00,1185.50 L310.70,1177.30 L314.70,1173.30 L320.00,1167.30 M329.30,1154.70 L343.70,1133.70 M352.00,1121.00 L366.00,1099.30 M373.70,1087.70 L388.30,1064.20 M395.50,1053.30 L411.50,1030.30 M418.20,1019.90 L434.50,995.90 M440.10,987.90 L447.30,977.00" fill="none" stroke="#ec4034" stroke-width="3.85" stroke-linecap="round" stroke-linejoin="round"/>
<circle cx="221.0" cy="1215.0" r="1.0" fill="#000"/>
<circle cx="258.7" cy="1204.0" r="1.0" fill="#000"/>
<circle cx="296.0" cy="1190.8" r="1.0" fill="#000"/>
<circle cx="324.7" cy="1161.3" r="1.0" fill="#000"/>
<circle cx="348.0" cy="1127.0" r="1.0" fill="#000"/>
<circle cx="370.3" cy="1092.3" r="1.0" fill="#000"/>
<circle cx="393.1" cy="1057.8" r="1.0" fill="#000"/>
<circle cx="416.1" cy="1023.4" r="1.0" fill="#000"/>
<circle cx="439.0" cy="989.3" r="1.0" fill="#000"/>
<path d="M188.70,1240.00 L194.50,1233.30" fill="none" stroke="#000" stroke-width="2.0" stroke-linecap="round"/>
<path d="M925.60,1280.90 L934.90,1257.90 M945.30,1256.60 L947.70,1260.30 L954.70,1257.10 L957.30,1248.60 L958.70,1243.80 M965.10,1228.90 L968.00,1217.70 L970.70,1211.80 L974.90,1205.90 M983.20,1192.10 L987.70,1184.60 L997.30,1190.30 L1002.80,1191.80 M1014.90,1181.50 L1020.00,1176.50 L1026.70,1170.50 L1034.70,1165.80 M1049.40,1162.10 L1058.90,1163.60 L1061.90,1164.30 L1071.80,1172.40 M1087.40,1176.10 L1094.70,1174.40 L1108.60,1164.40 M1121.20,1154.50 L1141.10,1139.30 M1153.70,1128.90 L1162.30,1122.40 L1166.70,1118.10 L1171.00,1111.10 M1180.10,1097.70 L1194.80,1076.90" fill="none" stroke="#f0592a" stroke-width="3.85" stroke-linecap="round" stroke-linejoin="round"/>
<circle cx="940.0" cy="1252.9" r="1.0" fill="#000"/>
<circle cx="961.9" cy="1236.3" r="1.0" fill="#000"/>
<circle cx="978.9" cy="1199.0" r="1.0" fill="#000"/>
<circle cx="1009.4" cy="1187.8" r="1.0" fill="#000"/>
<circle cx="1042.1" cy="1162.8" r="1.0" fill="#000"/>
<circle cx="1079.1" cy="1176.0" r="1.0" fill="#000"/>
<circle cx="1114.7" cy="1159.7" r="1.0" fill="#000"/>
<circle cx="1147.6" cy="1134.1" r="1.0" fill="#000"/>
<circle cx="1175.3" cy="1104.2" r="1.0" fill="#000"/>
<circle cx="1199.2" cy="1070.2" r="1.0" fill="#000"/>
<line x1="903.2" y1="1294.5" x2="1499.1" y2="788.6" stroke="#000" stroke-width="1.8"/>
<rect x="122.2" y="1468.3" width="595.9" height="595.8999999999999" fill="none" stroke="#000" stroke-width="1.85" stroke-linejoin="round"/>
<line x1="144.00" y1="2064.20" x2="144.00" y2="2079.00" stroke="#000" stroke-width="1.85" stroke-linecap="round" />
<text x="144.00" y="2115.00" font-size="29.0" text-anchor="middle" >0.0</text>
<line x1="107.40" y1="2042.20" x2="122.20" y2="2042.20" stroke="#000" stroke-width="1.85" stroke-linecap="round" />
<text x="93.00" y="2052.20" font-size="29.0" text-anchor="end" >0.0</text>
<line x1="254.40" y1="2064.20" x2="254.40" y2="2079.00" stroke="#000" stroke-width="1.85" stroke-linecap="round" />
<text x="254.40" y="2115.00" font-size="29.0" text-anchor="middle" >0.2</text>
<line x1="107.40" y1="1931.84" x2="122.20" y2="1931.84" stroke="#000" stroke-width="1.85" stroke-linecap="round" />
<text x="93.00" y="1941.84" font-size="29.0" text-anchor="end" >0.2</text>
<line x1="364.80" y1="2064.20" x2="364.80" y2="2079.00" stroke="#000" stroke-width="1.85" stroke-linecap="round" />
<text x="364.80" y="2115.00" font-size="29.0" text-anchor="middle" >0.4</text>
<line x1="107.40" y1="1821.48" x2="122.20" y2="1821.48" stroke="#000" stroke-width="1.85" stroke-linecap="round" />
<text x="93.00" y="1831.48" font-size="29.0" text-anchor="end" >0.4</text>
<line x1="475.20" y1="2064.20" x2="475.20" y2="2079.00" stroke="#000" stroke-width="1.85" stroke-linecap="round" />
<text x="475.20" y="2115.00" font-size="29.0" text-anchor="middle" >0.6</text>
<line x1="107.40" y1="1711.12" x2="122.20" y2="1711.12" stroke="#000" stroke-width="1.85" stroke-linecap="round" />
<text x="93.00" y="1721.12" font-size="29.0" text-anchor="end" >0.6</text>
<line x1="585.60" y1="2064.20" x2="585.60" y2="2079.00" stroke="#000" stroke-width="1.85" stroke-linecap="round" />
<text x="585.60" y="2115.00" font-size="29.0" text-anchor="middle" >0.8</text>
<line x1="107.40" y1="1600.76" x2="122.20" y2="1600.76" stroke="#000" stroke-width="1.85" stroke-linecap="round" />
<text x="93.00" y="1610.76" font-size="29.0" text-anchor="end" >0.8</text>
<line x1="696.00" y1="2064.20" x2="696.00" y2="2079.00" stroke="#000" stroke-width="1.85" stroke-linecap="round" />
<text x="696.00" y="2115.00" font-size="29.0" text-anchor="middle" >1.0</text>
<line x1="107.40" y1="1490.40" x2="122.20" y2="1490.40" stroke="#000" stroke-width="1.85" stroke-linecap="round" />
<text x="93.00" y="1500.40" font-size="29.0" text-anchor="end" >1.0</text>
<text x="0" y="0" font-size="29.1" text-anchor="middle" transform="translate(26.0,1766.25) rotate(-90)">Sensitivity</text>
<text x="420.15" y="2158.70" font-size="29.1" text-anchor="middle" >1-Specificity</text>
<text x="0.0" y="1476.8" font-size="38.5" font-weight="bold" text-anchor="start" transform="translate(0.0,1476.8) scale(1.08,1) translate(-0.0,-1476.8)">d</text>
<rect x="903.2" y="1468.3" width="595.8999999999999" height="595.8999999999999" fill="none" stroke="#000" stroke-width="1.85" stroke-linejoin="round"/>
<line x1="925.00" y1="2064.20" x2="925.00" y2="2079.00" stroke="#000" stroke-width="1.85" stroke-linecap="round" />
<text x="925.00" y="2115.00" font-size="29.0" text-anchor="middle" >0.0</text>
<line x1="888.40" y1="2042.20" x2="903.20" y2="2042.20" stroke="#000" stroke-width="1.85" stroke-linecap="round" />
<text x="874.00" y="2052.20" font-size="29.0" text-anchor="end" >0.0</text>
<line x1="1035.40" y1="2064.20" x2="1035.40" y2="2079.00" stroke="#000" stroke-width="1.85" stroke-linecap="round" />
<text x="1035.40" y="2115.00" font-size="29.0" text-anchor="middle" >0.2</text>
<line x1="888.40" y1="1931.84" x2="903.20" y2="1931.84" stroke="#000" stroke-width="1.85" stroke-linecap="round" />
<text x="874.00" y="1941.84" font-size="29.0" text-anchor="end" >0.2</text>
<line x1="1145.80" y1="2064.20" x2="1145.80" y2="2079.00" stroke="#000" stroke-width="1.85" stroke-linecap="round" />
<text x="1145.80" y="2115.00" font-size="29.0" text-anchor="middle" >0.4</text>
<line x1="888.40" y1="1821.48" x2="903.20" y2="1821.48" stroke="#000" stroke-width="1.85" stroke-linecap="round" />
<text x="874.00" y="1831.48" font-size="29.0" text-anchor="end" >0.4</text>
<line x1="1256.20" y1="2064.20" x2="1256.20" y2="2079.00" stroke="#000" stroke-width="1.85" stroke-linecap="round" />
<text x="1256.20" y="2115.00" font-size="29.0" text-anchor="middle" >0.6</text>
<line x1="888.40" y1="1711.12" x2="903.20" y2="1711.12" stroke="#000" stroke-width="1.85" stroke-linecap="round" />
<text x="874.00" y="1721.12" font-size="29.0" text-anchor="end" >0.6</text>
<line x1="1366.60" y1="2064.20" x2="1366.60" y2="2079.00" stroke="#000" stroke-width="1.85" stroke-linecap="round" />
<text x="1366.60" y="2115.00" font-size="29.0" text-anchor="middle" >0.8</text>
<line x1="888.40" y1="1600.76" x2="903.20" y2="1600.76" stroke="#000" stroke-width="1.85" stroke-linecap="round" />
<text x="874.00" y="1610.76" font-size="29.0" text-anchor="end" >0.8</text>
<line x1="1477.00" y1="2064.20" x2="1477.00" y2="2079.00" stroke="#000" stroke-width="1.85" stroke-linecap="round" />
<text x="1477.00" y="2115.00" font-size="29.0" text-anchor="middle" >1.0</text>
<line x1="888.40" y1="1490.40" x2="903.20" y2="1490.40" stroke="#000" stroke-width="1.85" stroke-linecap="round" />
<text x="874.00" y="1500.40" font-size="29.0" text-anchor="end" >1.0</text>
<text x="0" y="0" font-size="29.1" text-anchor="middle" transform="translate(807.0,1766.25) rotate(-90)">Sensitivity</text>
<text x="1201.15" y="2158.70" font-size="29.1" text-anchor="middle" >1-Specificity</text>
<text x="778.0" y="1476.8" font-size="38.5" font-weight="bold" text-anchor="start" transform="translate(778.0,1476.8) scale(1.08,1) translate(-778.0,-1476.8)">e</text>
<line x1="122.2" y1="2064.2" x2="718.1" y2="1468.3" stroke="#9a9ca2" stroke-width="1.7"/>
<line x1="903.2" y1="2064.2" x2="1499.1" y2="1468.3" stroke="#9a9ca2" stroke-width="1.7"/>
<path d="M144.00,2042.20 L144.00,1858.27 L148.70,1858.27 L148.70,1784.69 L170.40,1784.69 L170.40,1747.91 L192.40,1747.91 L192.40,1711.12 L209.70,1711.12 L209.70,1674.33 L240.60,1674.33 L240.60,1637.55 L262.20,1637.55 L262.20,1600.76 L354.20,1600.76 L354.20,1527.19 L463.80,1527.19 L463.80,1490.40 L696.00,1490.40" fill="none" stroke="#2c2f91" stroke-width="3.8" stroke-linejoin="round" stroke-linecap="square"/>
<path d="M925.00,2042.20 L925.00,1876.66 L930.80,1876.66 L930.80,1821.48 L964.90,1821.48 L964.90,1711.12 L994.00,1711.12 L994.00,1655.94 L1010.90,1655.94 L1010.90,1600.76 L1022.60,1600.76 L1022.60,1545.58 L1149.20,1545.58 L1149.20,1490.40 L1477.00,1490.40" fill="none" stroke="#2c2f91" stroke-width="3.8" stroke-linejoin="round" stroke-linecap="square"/>
<text x="698.60" y="2003.60" font-size="29.1" text-anchor="end" >AUC: 0.867 (0.770–0.963)</text>
<text x="1477.20" y="2003.60" font-size="29.1" text-anchor="end" >AUC: 0.898 (0.812–0.984)</text>
</svg>
</body></html>
